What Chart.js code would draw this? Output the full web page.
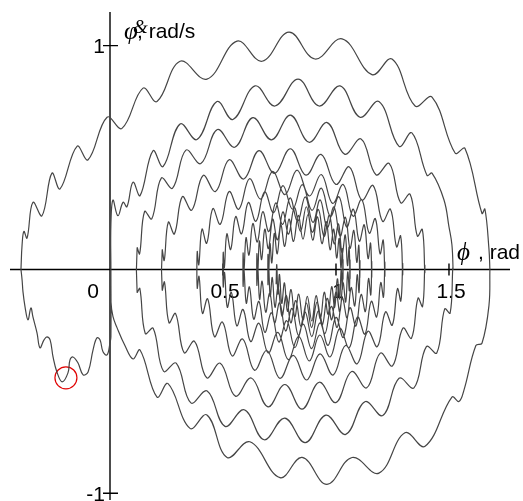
<!DOCTYPE html>
<html>
<head>
<meta charset="utf-8">
<title>Phase portrait</title>
<script src="https://cdn.jsdelivr.net/npm/chart.js@4.4.1/dist/chart.umd.min.js"></script>
<style>
  html, body { margin: 0; padding: 0; background: #fff; }
  #wrap { width: 523px; height: 501px; }
</style>
</head>
<body>
<div id="wrap"><canvas id="phaseChart" width="523" height="501"></canvas></div>
<script>
// Axis ranges and ticks
const phiRange = [-0.4425, 1.77];
const rateRange = [-1.03, 1.15];
const phiTicks = [0.5, 1, 1.5];
const phiTickLabels = ['0.5', '1', '1.5'];
const rateTicks = [1, -1];
const rateTickLabels = ['1', '-1'];

// Trajectory as [phi, phiDot] pairs, in the order the motion runs
const startSwing = [
    [0.004, 0.000], [0.004, -0.301], [0.000, -0.328], [-0.013, -0.382], [-0.031, -0.368],
    [-0.044, -0.315], [-0.058, -0.306], [-0.075, -0.359], [-0.097, -0.458], [-0.119, -0.471],
    [-0.142, -0.417], [-0.164, -0.391], [-0.177, -0.404], [-0.186, -0.462], [-0.212, -0.502],
    [-0.235, -0.458], [-0.252, -0.391], [-0.265, -0.315], [-0.279, -0.301], [-0.292, -0.315],
    [-0.310, -0.350], [-0.323, -0.283], [-0.341, -0.212], [-0.350, -0.172], [-0.363, -0.225],
    [-0.376, -0.167], [-0.385, -0.100], [-0.389, -0.047], [-0.394, 0.000]
];
const top0 = [
    [-0.394, 0.00], [-0.389, 0.11], [-0.381, 0.17], [-0.367, 0.14], [-0.341, 0.30], [-0.301, 0.24],
    [-0.257, 0.43], [-0.221, 0.36], [-0.146, 0.55], [-0.097, 0.49], [-0.013, 0.68], [0.053, 0.63],
    [0.146, 0.81], [0.208, 0.75], [0.310, 0.93], [0.429, 0.85], [0.562, 1.02], [0.673, 0.93],
    [0.792, 1.06], [0.907, 0.94], [1.027, 1.03], [1.159, 0.87], [1.248, 0.94], [1.350, 0.73],
    [1.425, 0.77], [1.527, 0.52], [1.571, 0.54], [1.646, 0.25], [1.659, 0.27], [1.677, 0.09],
    [1.681, 0.00]
];
const bottom0 = [
    [1.681, 0.00], [1.677, -0.16], [1.646, -0.33], [1.619, -0.34], [1.566, -0.54], [1.544, -0.59],
    [1.513, -0.57], [1.394, -0.79], [1.305, -0.73], [1.190, -0.91], [1.071, -0.84], [0.960, -0.96],
    [0.850, -0.84], [0.752, -0.93], [0.619, -0.77], [0.518, -0.84], [0.429, -0.65], [0.354, -0.71],
    [0.257, -0.51], [0.208, -0.57], [0.133, -0.36], [0.102, -0.40], [0.066, -0.34], [0.031, -0.26],
    [0.013, -0.21], [0.004, -0.14], [0.004, 0.00]
];
const top1 = [
    [0.004, 0.00], [0.004, 0.20], [0.013, 0.31], [0.035, 0.24], [0.058, 0.30], [0.075, 0.28],
    [0.102, 0.39], [0.133, 0.33], [0.190, 0.53], [0.235, 0.46], [0.310, 0.65], [0.385, 0.58],
    [0.473, 0.75], [0.544, 0.67], [0.642, 0.82], [0.730, 0.73], [0.832, 0.85], [0.925, 0.73],
    [1.018, 0.82], [1.106, 0.68], [1.190, 0.75], [1.279, 0.55], [1.336, 0.61], [1.403, 0.42],
    [1.425, 0.43], [1.478, 0.31], [1.500, 0.19], [1.513, 0.11], [1.518, 0.00]
];
const bottom1 = [
    [1.517, 0.008], [1.505, -0.195], [1.481, -0.176], [1.446, -0.373], [1.400, -0.345], [1.345, -0.529],
    [1.279, -0.486], [1.207, -0.653], [1.128, -0.591], [1.043, -0.737], [0.955, -0.651], [0.864, -0.774],
    [0.773, -0.664], [0.682, -0.761], [0.594, -0.627], [0.509, -0.701], [0.430, -0.543], [0.358, -0.596],
    [0.293, -0.419], [0.237, -0.455], [0.191, -0.263], [0.156, -0.286], [0.132, -0.085], [0.120, -0.102]
];
const top2 = [
    [0.120, 0.096], [0.131, 0.069], [0.153, 0.259], [0.185, 0.226], [0.227, 0.408], [0.277, 0.363],
    [0.336, 0.533], [0.402, 0.473], [0.475, 0.625], [0.552, 0.546], [0.632, 0.678], [0.715, 0.579],
    [0.798, 0.689], [0.881, 0.568], [0.961, 0.656], [1.038, 0.515], [1.111, 0.583], [1.177, 0.423],
    [1.236, 0.473], [1.286, 0.298], [1.328, 0.336], [1.360, 0.149], [1.382, 0.179], [1.393, -0.014]
];
const bottom2 = [
    [1.393, 0.018], [1.383, -0.166], [1.363, -0.128], [1.334, -0.307], [1.296, -0.262], [1.250, -0.431],
    [1.196, -0.374], [1.136, -0.529], [1.069, -0.456], [0.999, -0.595], [0.926, -0.504], [0.850, -0.624],
    [0.774, -0.514], [0.699, -0.614], [0.625, -0.485], [0.555, -0.566], [0.488, -0.419], [0.428, -0.484],
    [0.374, -0.321], [0.328, -0.372], [0.290, -0.197], [0.261, -0.238], [0.241, -0.056], [0.231, -0.092]
];
const top3 = [
    [0.231, 0.087], [0.240, 0.040], [0.258, 0.211], [0.285, 0.159], [0.320, 0.325], [0.362, 0.265],
    [0.412, 0.420], [0.467, 0.348], [0.527, 0.490], [0.592, 0.404], [0.659, 0.531], [0.728, 0.429],
    [0.798, 0.539], [0.867, 0.421], [0.934, 0.514], [0.999, 0.380], [1.059, 0.458], [1.114, 0.310],
    [1.164, 0.375], [1.206, 0.215], [1.241, 0.269], [1.268, 0.101], [1.286, 0.150], [1.295, -0.023]
];
const bottom3 = [
    [1.295, 0.026], [1.287, -0.141], [1.272, -0.086], [1.249, -0.249], [1.219, -0.190], [1.183, -0.345],
    [1.141, -0.276], [1.094, -0.421], [1.042, -0.340], [0.987, -0.472], [0.929, -0.377], [0.870, -0.494],
    [0.811, -0.384], [0.752, -0.487], [0.694, -0.362], [0.639, -0.450], [0.587, -0.311], [0.540, -0.386],
    [0.498, -0.235], [0.462, -0.300], [0.432, -0.131], [0.409, -0.196], [0.394, -0.031], [0.386, -0.084]
];
const top4 = [
    [0.386, 0.080], [0.393, 0.021], [0.407, 0.180], [0.428, 0.117], [0.455, 0.272], [0.488, 0.202],
    [0.527, 0.348], [0.570, 0.269], [0.617, 0.405], [0.667, 0.314], [0.720, 0.438], [0.774, 0.334],
    [0.828, 0.444], [0.882, 0.328], [0.935, 0.424], [0.985, 0.295], [1.032, 0.379], [1.075, 0.238],
    [1.114, 0.312], [1.147, 0.162], [1.174, 0.227], [1.195, 0.070], [1.209, 0.131], [1.216, -0.030]
];
const bottom4 = [
    [1.216, 0.032], [1.210, -0.124], [1.198, -0.059], [1.180, -0.212], [1.156, -0.142], [1.128, -0.289],
    [1.095, -0.212], [1.058, -0.350], [1.017, -0.263], [0.974, -0.391], [0.928, -0.293], [0.882, -0.409],
    [0.835, -0.299], [0.789, -0.403], [0.743, -0.281], [0.700, -0.373], [0.659, -0.240], [0.622, -0.322],
    [0.589, -0.179], [0.561, -0.252], [0.537, -0.102], [0.519, -0.169], [0.507, -0.014], [0.501, -0.078]
];
const top5 = [
    [0.501, 0.076], [0.506, 0.008], [0.517, 0.159], [0.534, 0.089], [0.556, 0.236], [0.582, 0.159],
    [0.612, 0.299], [0.646, 0.215], [0.684, 0.347], [0.724, 0.253], [0.765, 0.374], [0.808, 0.269],
    [0.851, 0.379], [0.894, 0.264], [0.935, 0.363], [0.975, 0.237], [1.013, 0.325], [1.047, 0.189],
    [1.077, 0.269], [1.103, 0.126], [1.125, 0.199], [1.142, 0.049], [1.153, 0.118], [1.158, -0.034]
];
const bottom5 = [
    [1.158, 0.035], [1.154, -0.114], [1.144, -0.041], [1.130, -0.188], [1.111, -0.112], [1.088, -0.253],
    [1.062, -0.171], [1.032, -0.304], [1.000, -0.214], [0.965, -0.339], [0.929, -0.239], [0.892, -0.354],
    [0.855, -0.244], [0.818, -0.349], [0.782, -0.229], [0.747, -0.324], [0.715, -0.194], [0.685, -0.281],
    [0.659, -0.143], [0.636, -0.222], [0.617, -0.078], [0.603, -0.151], [0.593, -0.004], [0.589, -0.075]
];
const top6 = [
    [0.589, 0.073], [0.593, -0.002], [0.602, 0.142], [0.615, 0.064], [0.632, 0.205], [0.652, 0.123],
    [0.676, 0.258], [0.703, 0.169], [0.733, 0.297], [0.764, 0.201], [0.797, 0.320], [0.830, 0.214],
    [0.864, 0.324], [0.898, 0.210], [0.930, 0.311], [0.961, 0.187], [0.991, 0.279], [1.018, 0.148],
    [1.042, 0.233], [1.062, 0.095], [1.079, 0.174], [1.092, 0.032], [1.101, 0.108], [1.105, -0.037]
];
const bottom6 = [
    [1.106, 0.039], [1.102, -0.103], [1.094, -0.024], [1.083, -0.163], [1.067, -0.081], [1.049, -0.216],
    [1.028, -0.129], [1.005, -0.259], [0.979, -0.165], [0.951, -0.287], [0.922, -0.185], [0.893, -0.300],
    [0.863, -0.190], [0.834, -0.295], [0.805, -0.174], [0.777, -0.275], [0.751, -0.149], [0.728, -0.239],
    [0.707, -0.106], [0.689, -0.191], [0.673, -0.053], [0.662, -0.134], [0.654, 0.007], [0.650, -0.071]
];
const top7 = [
    [0.650, 0.070], [0.654, -0.011], [0.661, 0.127], [0.671, 0.044], [0.685, 0.180], [0.701, 0.093],
    [0.720, 0.224], [0.741, 0.132], [0.765, 0.257], [0.790, 0.158], [0.816, 0.276], [0.843, 0.170],
    [0.869, 0.280], [0.896, 0.166], [0.922, 0.268], [0.947, 0.147], [0.971, 0.242], [0.992, 0.114],
    [1.011, 0.203], [1.027, 0.070], [1.041, 0.154], [1.051, 0.017], [1.058, 0.099], [1.062, -0.040]
];
const bottom7 = [
    [1.062, 0.042], [1.059, -0.095], [1.052, -0.011], [1.043, -0.146], [1.031, -0.059], [1.017, -0.190],
    [1.000, -0.099], [0.981, -0.225], [0.961, -0.129], [0.939, -0.249], [0.916, -0.146], [0.892, -0.260],
    [0.869, -0.150], [0.845, -0.256], [0.822, -0.139], [0.800, -0.239], [0.780, -0.115], [0.761, -0.209],
    [0.744, -0.080], [0.730, -0.169], [0.718, -0.036], [0.709, -0.121], [0.702, 0.015], [0.699, -0.068]
];
const top8 = [
    [0.699, 0.067], [0.702, -0.018], [0.708, 0.116], [0.716, 0.029], [0.727, 0.161], [0.740, 0.070],
    [0.756, 0.198], [0.773, 0.103], [0.792, 0.225], [0.812, 0.125], [0.833, 0.241], [0.854, 0.135],
    [0.876, 0.245], [0.897, 0.131], [0.918, 0.235], [0.938, 0.115], [0.957, 0.213], [0.974, 0.088],
    [0.990, 0.180], [1.003, 0.051], [1.014, 0.138], [1.022, 0.006], [1.028, 0.092], [1.031, -0.043]
];
const bottom8 = [
    [1.031, 0.044], [1.028, -0.089], [1.023, -0.001], [1.016, -0.132], [1.006, -0.042], [0.994, -0.170],
    [0.981, -0.077], [0.965, -0.200], [0.948, -0.102], [0.931, -0.221], [0.912, -0.117], [0.893, -0.230],
    [0.873, -0.120], [0.854, -0.227], [0.835, -0.110], [0.818, -0.212], [0.801, -0.090], [0.785, -0.187],
    [0.772, -0.060], [0.760, -0.152], [0.750, -0.022], [0.743, -0.110], [0.738, 0.021], [0.735, -0.066]
];

// Circled point on the first swing
const marker = [[-0.195, -0.484]];

const swings = [
    startSwing, top0, bottom0, top1, bottom1, top2, bottom2, top3, bottom3,
    top4, bottom4, top5, bottom5, top6, bottom6, top7, bottom7, top8, bottom8
];

function toPoints(pairs) {
    return pairs.map(p => ({ x: p[0], y: p[1] }));
}

// Axes cross at the origin, so they are drawn by hand from the scales
const crossAxes = {
    id: 'crossAxes',
    beforeDatasetsDraw(chart) {
        const ctx = chart.ctx;
        const area = chart.chartArea;
        const xs = chart.scales.x;
        const ys = chart.scales.y;
        const x0 = xs.getPixelForValue(0);
        const y0 = ys.getPixelForValue(0);

        ctx.save();
        ctx.strokeStyle = '#000';
        ctx.lineWidth = 1.4;
        ctx.beginPath();
        ctx.moveTo(area.left, y0);
        ctx.lineTo(area.right, y0);
        ctx.moveTo(x0, area.top);
        ctx.lineTo(x0, area.bottom);
        phiTicks.forEach(v => {
            const px = xs.getPixelForValue(v);
            ctx.moveTo(px, y0 - 6);
            ctx.lineTo(px, y0 + 6);
        });
        rateTicks.forEach(v => {
            const py = ys.getPixelForValue(v);
            ctx.moveTo(x0 - 7, py);
            ctx.lineTo(x0 + 8, py);
        });
        ctx.stroke();

        // tick labels
        ctx.fillStyle = '#000';
        ctx.font = '21px "Liberation Sans", Arial, sans-serif';
        ctx.textBaseline = 'alphabetic';
        ctx.textAlign = 'center';
        phiTicks.forEach((v, i) => {
            ctx.fillText(phiTickLabels[i], xs.getPixelForValue(v) + 2, y0 + 29);
        });
        ctx.fillText('0', x0 - 17, y0 + 29);
        ctx.textAlign = 'right';
        rateTicks.forEach((v, i) => {
            ctx.fillText(rateTickLabels[i], x0 - 5, ys.getPixelForValue(v) + 7.5);
        });

        // axis titles
        ctx.textAlign = 'left';
        ctx.font = 'italic 25px "Liberation Serif", "Times New Roman", serif';
        ctx.fillText('\u03C6', x0 + 14, area.top + 27);
        ctx.font = 'italic 19px "Liberation Serif", "Times New Roman", serif';
        ctx.fillText('&', x0 + 23, area.top + 21);
        ctx.font = '21px "Liberation Sans", Arial, sans-serif';
        ctx.fillText(', rad/s', x0 + 27, area.top + 26);

        ctx.font = 'italic 25px "Liberation Serif", "Times New Roman", serif';
        ctx.fillText('\u03D5', area.right - 53, y0 - 9);
        ctx.font = '21px "Liberation Sans", Arial, sans-serif';
        ctx.fillText(', rad', area.right - 32, y0 - 10);
        ctx.restore();
    }
};

document.addEventListener('DOMContentLoaded', function() {
    const ctx = document.getElementById('phaseChart').getContext('2d');
    new Chart(ctx, {
        type: 'scatter',
        data: {
            datasets: [{
                label: 'trajectory',
                data: toPoints(swings.flat()),
                showLine: true,
                borderColor: '#454545',
                borderWidth: 1.2,
                pointRadius: 0,
                tension: 0.4,
                fill: false
            }, {
                label: 'marker',
                data: toPoints(marker),
                showLine: false,
                pointStyle: 'circle',
                pointRadius: 11,
                borderColor: '#e00000',
                borderWidth: 1.2,
                backgroundColor: 'rgba(0,0,0,0)'
            }]
        },
        options: {
            responsive: false,
            devicePixelRatio: 1,
            animation: false,
            events: [],
            layout: { autoPadding: false, padding: { left: 10, right: 13, top: 12, bottom: 1 } },
            plugins: { legend: { display: false }, tooltip: { enabled: false } },
            scales: {
                x: { type: 'linear', min: phiRange[0], max: phiRange[1], display: false },
                y: { type: 'linear', min: rateRange[0], max: rateRange[1], display: false }
            }
        },
        plugins: [crossAxes]
    });
});
</script>
</body>
</html>
